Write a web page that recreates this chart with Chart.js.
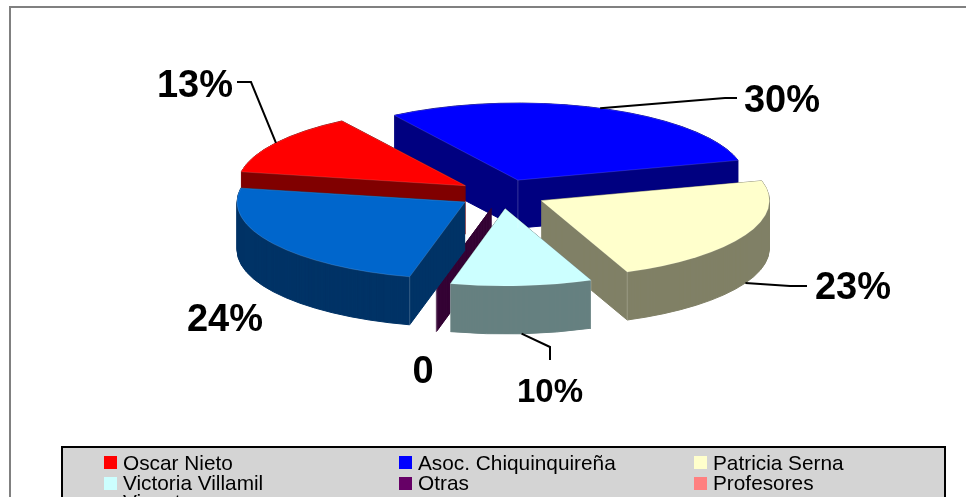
<!DOCTYPE html>
<html>
<head>
<meta charset="utf-8">
<style>
  html, body { margin:0; padding:0; background:#fff; overflow:hidden; }
  #wrap { position:relative; width:966px; height:497px; }
</style>
<script src="https://cdn.jsdelivr.net/npm/chart.js@4"></script>
</head>
<body>
<div id="wrap"><canvas id="pie" width="966" height="497"></canvas></div>
<script>
// ─── Data ──────────────────────────────────────────────────────────────────
const categories = ["Oscar Nieto", "Asoc. Chiquinquireña", "Patricia Serna", "Victoria Villamil", "Otras", "Profesores", "Vicente"];
const shares     = [13, 30, 23, 10, 0.05, 0, 24];
const shareLabels = ["13%", "30%", "23%", "10%", "0", "", "24%"];
const topColors  = ["#ff0000", "#0000ff", "#ffffcc", "#ccffff", "#660066", "#ff8080", "#0066cc"];
const sideColors = ["#800000", "#000080", "#808066", "#668080", "#330033", "#804040", "#003366"];

// ─── 3D look ───────────────────────────────────────────────────────────────
const SQUASH  = 0.338;   // vertical flattening of the pie
const DEPTH   = 48;      // height of the pie wall, px
const EXPLODE = 44;      // slice pull-out, px before flattening
const drawOrder = [1, 0, 4, 6, 2, 3];   // back to front

// label text anchors and leader elbows (null = no leader line)
const labelBoxes = {
  0: { x: 195, y: 87,  size: 38, elbow: [[251, 82], [237, 82]] },
  1: { x: 782, y: 102, size: 38, elbow: [[725, 98], [737, 98]] },
  2: { x: 853, y: 289, size: 38, elbow: [[790, 286], [807, 286]] },
  3: { x: 550, y: 393, size: 33, elbow: [[550, 347], [550, 360]] },
  4: { x: 423, y: 373, size: 38, elbow: null },
  6: { x: 225, y: 321, size: 38, elbow: null }
};

function sliceTip(arc) {
  const mid = (arc.startAngle + arc.endAngle) / 2;
  return {
    mid,
    x: arc.x + Math.cos(mid) * EXPLODE,
    y: arc.y + Math.sin(mid) * EXPLODE * SQUASH
  };
}

function wedgePath(ctx, arc, tip, dy) {
  ctx.beginPath();
  ctx.moveTo(tip.x, tip.y + dy);
  ctx.ellipse(tip.x, tip.y + dy, arc.outerRadius, arc.outerRadius * SQUASH, 0, arc.startAngle, arc.endAngle);
  ctx.closePath();
}

function drawWall(ctx, arc, tip, color) {
  ctx.fillStyle = color;
  ctx.strokeStyle = color;
  ctx.lineWidth = 1;
  for (let d = DEPTH; d >= 0; d--) {
    wedgePath(ctx, arc, tip, d);
    ctx.fill();
    ctx.stroke();
  }
  // thin light edge on the wall corners
  ctx.strokeStyle = "rgba(255,255,255,0.3)";
  ctx.lineWidth = 0.7;
  [arc.startAngle, arc.endAngle].forEach(a => {
    const px = tip.x + Math.cos(a) * arc.outerRadius;
    const py = tip.y + Math.sin(a) * arc.outerRadius * SQUASH;
    if (Math.sin(a) > 0.2) {
      ctx.beginPath();
      ctx.moveTo(px, py);
      ctx.lineTo(px, py + DEPTH);
      ctx.stroke();
    }
  });
}

const pie3d = {
  id: "pie3d",
  beforeDatasetsDraw(chart) {
    const ctx = chart.ctx;
    const arcs = chart.getDatasetMeta(0).data;
    drawOrder.forEach(i => {
      const arc = arcs[i];
      const tip = sliceTip(arc);
      drawWall(ctx, arc, tip, sideColors[i]);
      if (arc.circumference > 0.01) {
        ctx.save();
        ctx.translate(tip.x, tip.y);
        ctx.scale(1, SQUASH);
        ctx.translate(-arc.x, -arc.y);
        arc.draw(ctx);
        ctx.restore();
      }
    });
    // blue slice's inner corner line
    const b = sliceTip(arcs[1]);
    ctx.strokeStyle = "rgba(255,255,255,0.3)";
    ctx.lineWidth = 0.7;
    ctx.beginPath();
    ctx.moveTo(b.x, b.y);
    ctx.lineTo(b.x, b.y + DEPTH);
    ctx.stroke();
    return false;
  },
  afterDraw(chart) {
    const ctx = chart.ctx;
    const arcs = chart.getDatasetMeta(0).data;
    // outer frame, only top and left are inside the picture
    ctx.strokeStyle = "#808080";
    ctx.lineWidth = 2;
    ctx.beginPath();
    ctx.moveTo(10, 497);
    ctx.lineTo(10, 7);
    ctx.lineTo(966, 7);
    ctx.stroke();

    // leaders and value labels
    ctx.textAlign = "center";
    ctx.textBaseline = "middle";
    Object.keys(labelBoxes).forEach(k => {
      const i = Number(k), box = labelBoxes[k], arc = arcs[i];
      if (box.elbow) {
        const tip = sliceTip(arc);
        const sx = tip.x + Math.cos(tip.mid) * arc.outerRadius;
        let sy = tip.y + Math.sin(tip.mid) * arc.outerRadius * SQUASH;
        if (Math.sin(tip.mid) > 0) sy += DEPTH;
        ctx.strokeStyle = "#000";
        ctx.lineWidth = 2;
        ctx.beginPath();
        ctx.moveTo(sx, sy);
        box.elbow.forEach(p => ctx.lineTo(p[0], p[1]));
        ctx.stroke();
      }
      ctx.font = "bold " + box.size + "px 'Liberation Sans', Arial, sans-serif";
      ctx.fillStyle = "#000";
      ctx.fillText(shareLabels[i], box.x, box.y);
    });

    // legend box, runs off the bottom of the picture like the original
    ctx.fillStyle = "#d4d4d4";
    ctx.fillRect(62, 447, 883, 70);
    ctx.strokeStyle = "#000";
    ctx.lineWidth = 2;
    ctx.strokeRect(62, 447, 883, 70);
    const colX = [104, 399, 694], rowY = [464, 484, 503], swatchY = [456, 477, 497];
    ctx.font = "20.8px 'Liberation Sans', Arial, sans-serif";
    ctx.textAlign = "left";
    categories.forEach((name, i) => {
      const row = Math.floor(i / 3), x = colX[i % 3];
      ctx.fillStyle = topColors[i];
      ctx.fillRect(x, swatchY[row], 13, 13);
      ctx.fillStyle = "#000";
      ctx.fillText(name, x + 19, rowY[row]);
    });
  }
};

new Chart(document.getElementById("pie"), {
  type: "pie",
  data: {
    labels: categories,
    datasets: [{
      data: shares,
      backgroundColor: topColors,
      borderColor: "rgba(255,255,255,0.35)",
      borderWidth: 0.6
    }]
  },
  options: {
    responsive: false,
    animation: false,
    rotation: -79.6,
    radius: 228,
    layout: { padding: { left: 38, bottom: 109 } },
    plugins: { legend: { display: false }, tooltip: { enabled: false } },
    events: []
  },
  plugins: [pie3d]
});
</script>
</body>
</html>
